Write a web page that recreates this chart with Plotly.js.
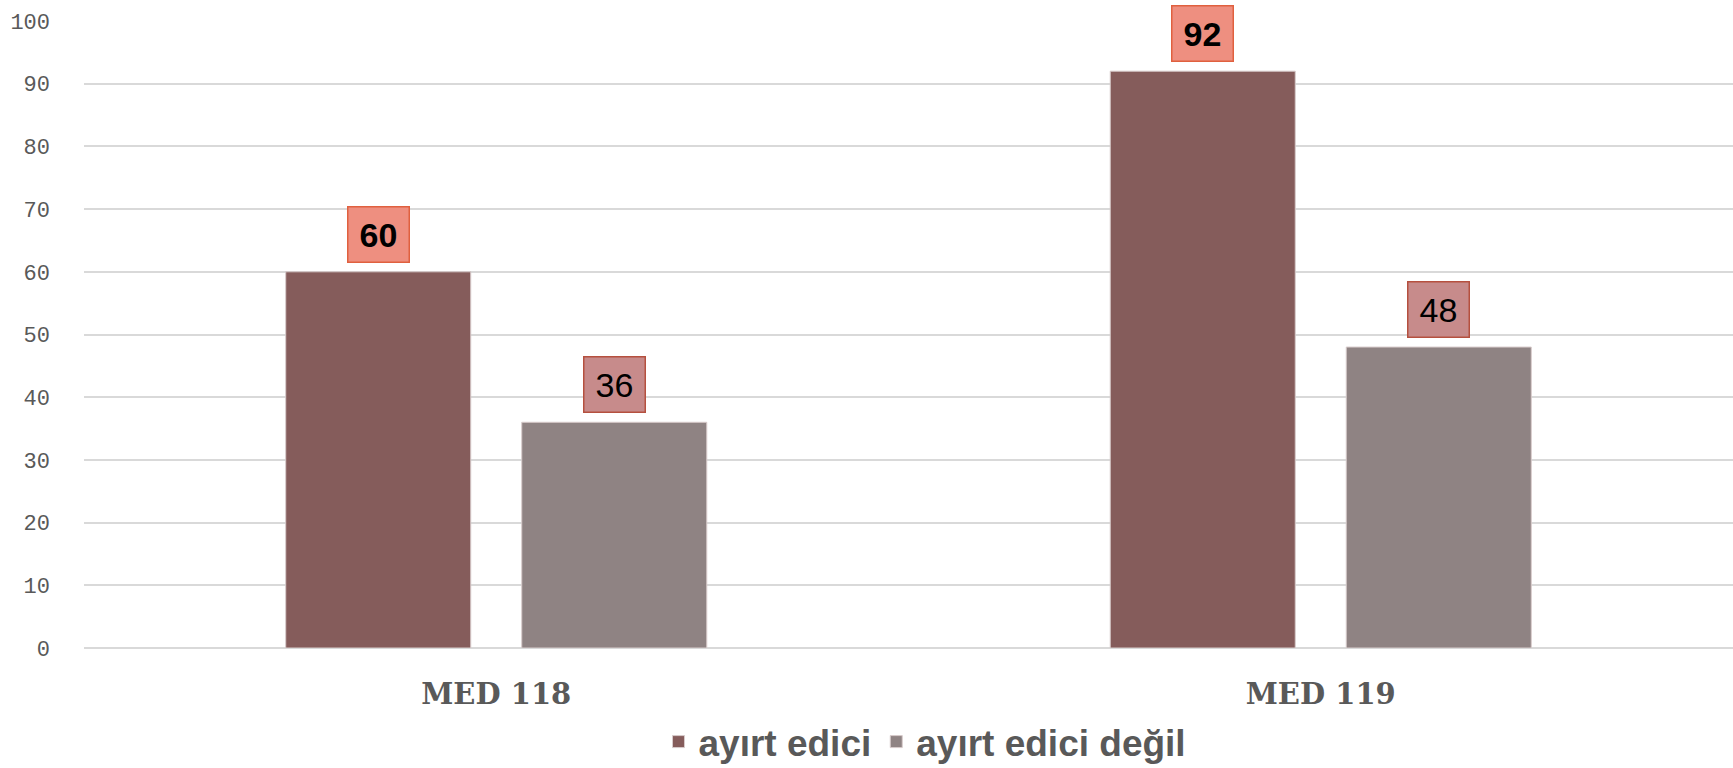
<!DOCTYPE html>
<html>
<head>
<meta charset="utf-8">
<script src="https://cdn.plot.ly/plotly-3.0.1.min.js"></script>
<style>html,body{margin:0;padding:0;background:#fff;}#chart{width:1733px;height:768px;}</style>
</head>
<body>
<div id="chart"></div>
<script>
const categories = ["MED 118", "MED 119"];
const seriesNames = ["ayırt edici", "ayırt edici değil"];
const ayirtEdici = [60, 92];
const ayirtEdiciDegil = [36, 48];
const yTicks = [0, 10, 20, 30, 40, 50, 60, 70, 80, 90, 100];

const barColors = ["#855c5b", "#8f8383"];
const labelBg = ["#ee8f80", "#c78b8b"];
const labelBorder = ["#e0603f", "#b5503f"];
const labelFont = [
  {family: "Liberation Sans, Arial, sans-serif", size: 34, color: "#000", weight: 700},
  {family: "Liberation Sans, Arial, sans-serif", size: 34, color: "#000", weight: 400}
];

const bargap = 0.4275;
const allSeries = [ayirtEdici, ayirtEdiciDegil];

const traces = allSeries.map((vals, i) => ({
  type: "bar",
  name: seriesNames[i],
  x: categories,
  y: vals,
  marker: {color: barColors[i], line: {color: "#d8cccc", width: 1}},
  textposition: "none",
  hoverinfo: "skip"
}));

const slot = (1 - bargap) / 2;
const annotations = [];
allSeries.forEach((vals, i) => {
  vals.forEach((v, j) => {
    annotations.push({
      xref: "x", yref: "y",
      x: j + (i === 0 ? -slot / 2 : slot / 2),
      y: v,
      text: String(v),
      showarrow: false,
      xanchor: "center", yanchor: "bottom",
      yshift: 9,
      width: 60, height: 54,
      borderpad: 0,
      bgcolor: labelBg[i],
      bordercolor: labelBorder[i],
      borderwidth: 1.5,
      font: labelFont[i]
    });
  });
});

const layout = {
  width: 1733, height: 768,
  margin: {l: 84, r: 0, t: 21, b: 120, autoexpand: false},
  paper_bgcolor: "#fff",
  plot_bgcolor: "#fff",
  barmode: "group",
  bargap: bargap,
  bargroupgap: 0.216,
  showlegend: true,
  legend: {
    orientation: "h",
    x: 0.51, xanchor: "center",
    y: -0.150, yanchor: "middle",
    font: {family: "Liberation Sans, Arial, sans-serif", size: 37, color: "#595959", weight: 700},
    itemclick: false, itemdoubleclick: false,
    traceorder: "normal"
  },
  xaxis: {
    type: "category",
    showgrid: false,
    zeroline: false,
    showline: false,
    ticks: "",
    tickfont: {family: "DejaVu Serif, serif", size: 29, color: "#595959", weight: 700},
    ticklabelstandoff: 26
  },
  yaxis: {
    range: [0, 100],
    tickvals: yTicks,
    ticktext: yTicks.map(String),
    showgrid: true,
    gridcolor: "#d9d9d9",
    gridwidth: 2,
    zeroline: true,
    zerolinecolor: "#d9d9d9",
    zerolinewidth: 2,
    showline: false,
    ticks: "",
    tickfont: {family: "Liberation Mono, monospace", size: 22, color: "#595959"},
    ticklabelstandoff: 33
  },
  annotations: annotations
};

Plotly.newPlot("chart", traces, layout, {displayModeBar: false, staticPlot: true});
</script>
</body>
</html>
